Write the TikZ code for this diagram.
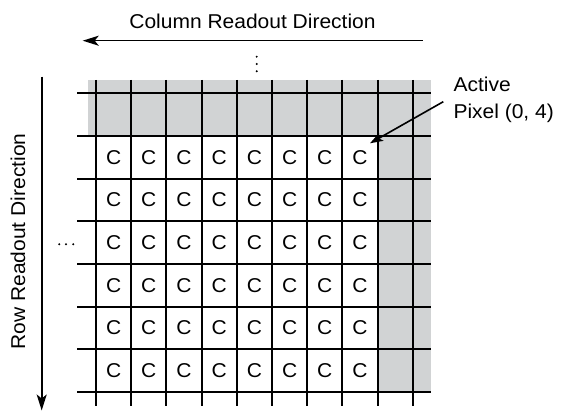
\documentclass[tikz,border=0pt]{standalone}
\usepackage{fontspec}
\setmainfont{Liberation Sans}[FakeStretch=1.05]
\usetikzlibrary{arrows.meta}
\definecolor{pixgray}{RGB}{209,211,212}
\begin{document}
\begin{tikzpicture}[x=1pt,y=-1pt,
  gridline/.style={line width=2pt, black},
  lbl/.style={font=\fontsize{20}{24}\selectfont, inner sep=0pt},
  cell/.style={font=\fontsize{20}{24}\selectfont, inner sep=0pt},
  dirarrow/.style={line width=1.6pt, -{Stealth[length=16pt,width=10pt,inset=4pt]}},
  ptrarrow/.style={line width=1.6pt, -{Stealth[length=13pt,width=9pt,inset=3pt]}},
  dotmark/.style={circle, fill=black, inner sep=0pt, minimum size=2.2pt}]
\useasboundingbox (0,0) rectangle (566,411);
% gray regions
\fill[pixgray] (88,80) rectangle (431,136.3);
\fill[pixgray] (377.7,136.3) rectangle (431,392);
% grid
\foreach \j in {0,...,7}
  \draw[gridline] (77,{93.5+42.64*\j}) -- (431,{93.5+42.64*\j});
\foreach \i in {0,...,9}
  \draw[gridline] ({96+35.2*\i},80) -- ({96+35.2*\i},406);
% C cells
\foreach \i in {0,...,7}
  \foreach \j in {1,...,6}
    \node[cell] (c-\i-\j) at ({96+35.2*(\i+0.5)},{93.5+42.64*(\j+0.5)}) {C};
% column direction
\node[lbl, anchor=base] (collbl) at (252.5,28.3) {Column Readout Direction};
\coordinate (colstart) at (422.7,40.7);
\coordinate (colend) at (82.7,40.7);
\draw[dirarrow] (colstart) -- (colend);
% row direction
\node[lbl, anchor=base, rotate=90] (rowlbl) at (25,241.5) {Row Readout Direction};
\coordinate (rowstart) at (41.7,76.7);
\coordinate (rowend) at (41.7,410.5);
\draw[dirarrow] (rowstart) -- (rowend);
% dots
\node[dotmark] (vd1) at (256.7,56.7) {};
\node[dotmark] (vd2) at (256.7,64) {};
\node[dotmark] (vd3) at (256.7,71.3) {};
\node[dotmark] (hd1) at (59.3,244.3) {};
\node[dotmark] (hd2) at (66,244.3) {};
\node[dotmark] (hd3) at (73.3,244.3) {};
% active pixel label
\node[lbl, anchor=base west] (act1) at (453.3,91.7) {Active};
\node[lbl, anchor=base west] (act2) at (453.3,118.3) {Pixel (0, 4)};
\coordinate (ptrstart) at (443.3,101.7);
\coordinate (ptrend) at (370,143.3);
\draw[ptrarrow] (ptrstart) -- (ptrend);
\end{tikzpicture}
\end{document}
